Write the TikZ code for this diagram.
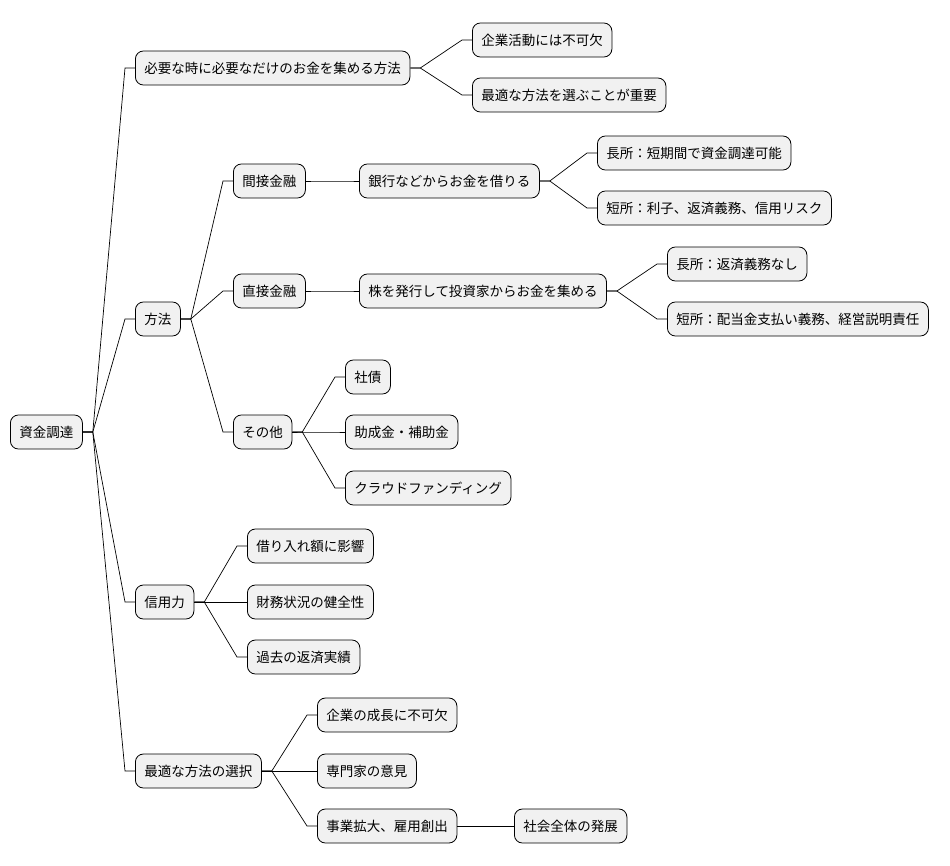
\documentclass[tikz,border=0pt]{standalone}
\usepackage{fontspec}
\usetikzlibrary{calc}
\setmainfont{Noto Sans CJK JP}
\begin{document}
\begin{tikzpicture}[x=1pt,y=-1pt,
  box/.style={draw=black,fill={rgb,255:red,241;green,241;blue,241},rounded corners=8pt,line width=0.8pt,
    inner xsep=9pt,inner ysep=0pt,minimum height=34pt,anchor=west,font=\fontsize{13.5pt}{16pt}\selectfont},
  ln/.style={draw=black,line width=0.7pt}]
\useasboundingbox (0,0) rectangle (950,865);
\node[box] (r) at (10,432) {資金調達};
\node[box] (a) at (135,68) {必要な時に必要なだけのお金を集める方法};
\node[box] (a1) at (472,40) {企業活動には不可欠};
\node[box] (a2) at (472,95) {最適な方法を選ぶことが重要};
\node[box] (b) at (135,319) {方法};
\node[box] (b1) at (233,181) {間接金融};
\node[box] (b11) at (359,181) {銀行などからお金を借りる};
\node[box] (b111) at (597,153) {長所：短期間で資金調達可能};
\node[box] (b112) at (597,208) {短所：利子、返済義務、信用リスク};
\node[box] (b2) at (233,291) {直接金融};
\node[box] (b21) at (359,291) {株を発行して投資家からお金を集める};
\node[box] (b211) at (667,264) {長所：返済義務なし};
\node[box] (b212) at (667,319) {短所：配当金支払い義務、経営説明責任};
\node[box] (b3) at (233,432) {その他};
\node[box] (b31) at (345,377) {社債};
\node[box] (b32) at (345,432) {助成金・補助金};
\node[box] (b33) at (345,488) {クラウドファンディング};
\node[box] (c) at (135,602) {信用力};
\node[box] (c1) at (247,546) {借り入れ額に影響};
\node[box] (c2) at (247,602) {財務状況の健全性};
\node[box] (c3) at (247,657) {過去の返済実績};
\node[box] (d) at (135,771) {最適な方法の選択};
\node[box] (d1) at (317,715) {企業の成長に不可欠};
\node[box] (d2) at (317,771) {専門家の意見};
\node[box] (d3) at (317,826) {事業拡大、雇用創出};
\node[box] (d31) at (514,826) {社会全体の発展};
\foreach \p/\c in {r/a,r/b,r/c,r/d,a/a1,a/a2,b/b1,b/b2,b/b3,b1/b11,b11/b111,b11/b112,b2/b21,b21/b211,b21/b212,b3/b31,b3/b32,b3/b33,c/c1,c/c2,c/c3,d/d1,d/d2,d/d3,d3/d31}
  \draw[ln] (\p.east) -- ++(10,0) .. controls ($(\p.east)!0.5!(\c.west)$ |- \p.east) and ($(\p.east)!0.5!(\c.west)$ |- \c.west) .. ($(\c.west)+(-10,0)$) -- (\c.west);
\end{tikzpicture}
\end{document}
